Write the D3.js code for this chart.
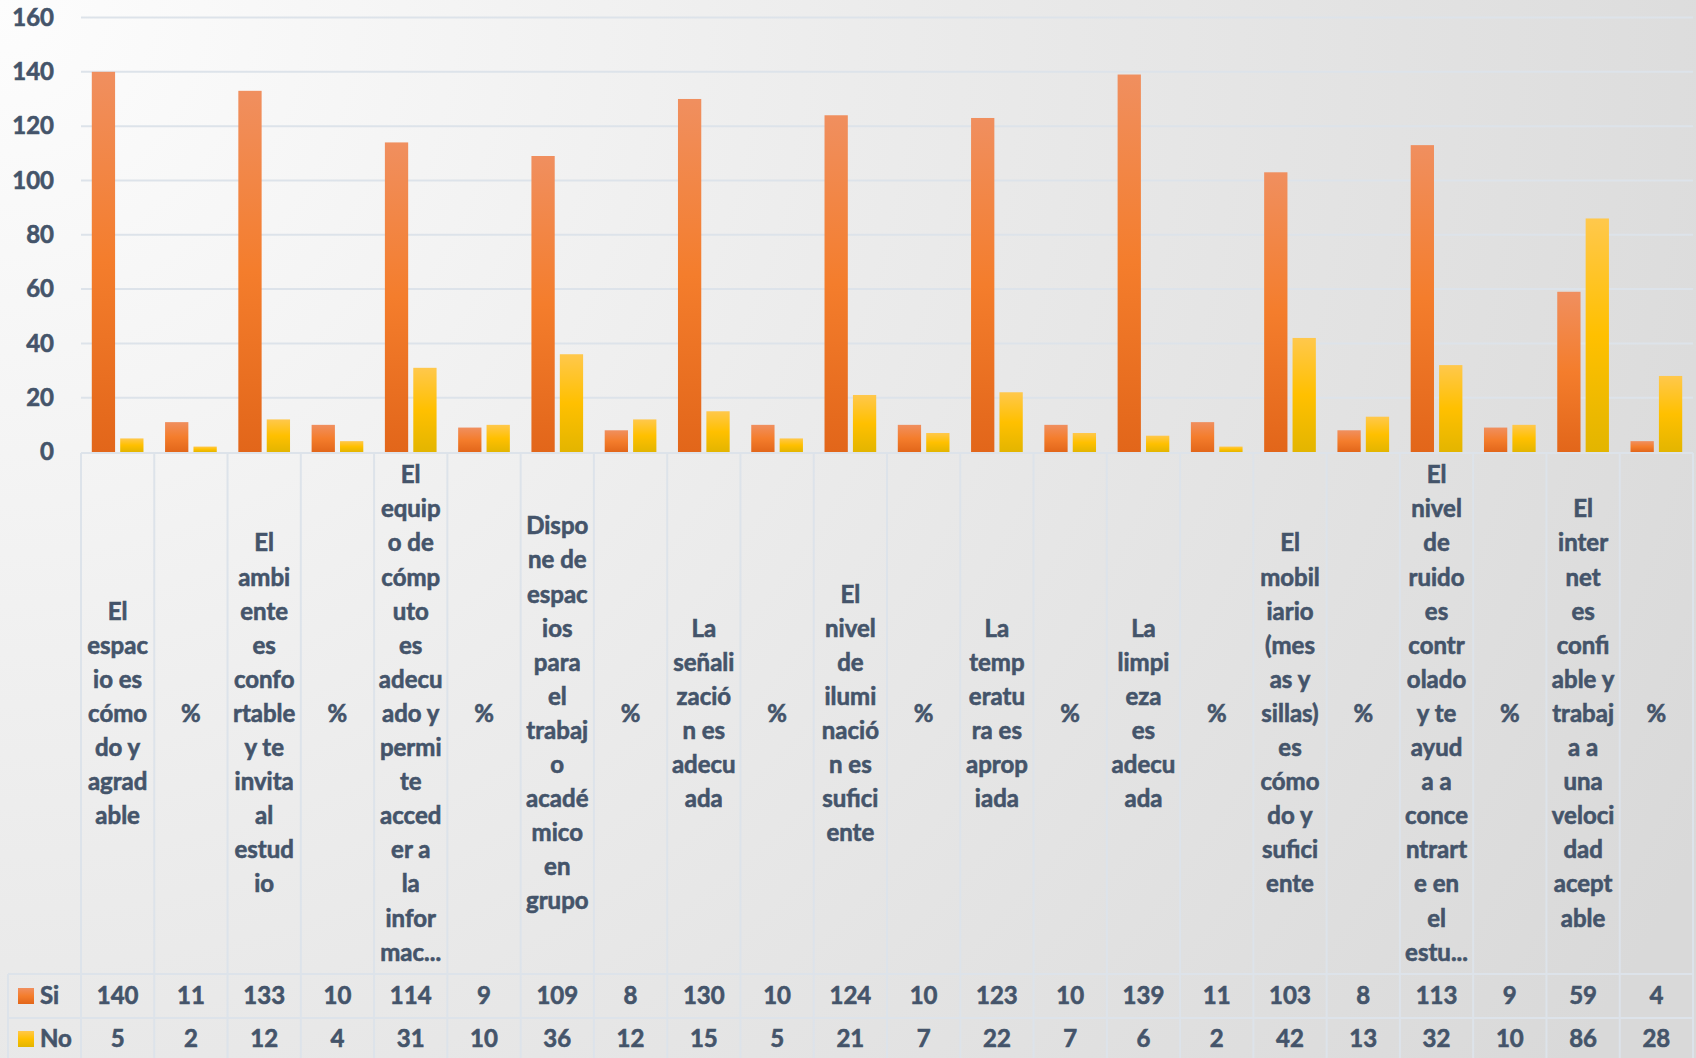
<!DOCTYPE html>
<html>
<head>
<meta charset="utf-8">
<script src="https://cdn.jsdelivr.net/npm/d3@7"></script>
<style>
  html, body { margin: 0; padding: 0; overflow: hidden; }
  svg { display: block; font-family: Lato, "Open Sans", sans-serif; font-weight: 700; }
  svg text { stroke: #44546a; stroke-width: 0.6px; }
</style>
</head>
<body>
<svg id="chart" width="1696" height="1058"></svg>
<script>
// category labels, wrapped the same way as the spreadsheet did it
const labels = [
  ["El", "espac", "io es", "cómo", "do y", "agrad", "able"],
  ["%"],
  ["El", "ambi", "ente", "es", "confo", "rtable", "y te", "invita", "al", "estud", "io"],
  ["%"],
  ["El", "equip", "o de", "cómp", "uto", "es", "adecu", "ado y", "permi", "te", "acced", "er a", "la", "infor", "mac..."],
  ["%"],
  ["Dispo", "ne de", "espac", "ios", "para", "el", "trabaj", "o", "acadé", "mico", "en", "grupo"],
  ["%"],
  ["La", "señali", "zació", "n es", "adecu", "ada"],
  ["%"],
  ["El", "nivel", "de", "ilumi", "nació", "n es", "sufici", "ente"],
  ["%"],
  ["La", "temp", "eratu", "ra es", "aprop", "iada"],
  ["%"],
  ["La", "limpi", "eza", "es", "adecu", "ada"],
  ["%"],
  ["El", "mobil", "iario", "(mes", "as y", "sillas)", "es", "cómo", "do y", "sufici", "ente"],
  ["%"],
  ["El", "nivel", "de", "ruido", "es", "contr", "olado", "y te", "ayud", "a a", "conce", "ntrart", "e en", "el", "estu..."],
  ["%"],
  ["El", "inter", "net", "es", "confi", "able y", "trabaj", "a a", "una", "veloci", "dad", "acept", "able"],
  ["%"]
];

const siValues = [140, 11, 133, 10, 114, 9, 109, 8, 130, 10, 124, 10, 123, 10, 139, 11, 103, 8, 113, 9, 59, 4];
const noValues = [5, 2, 12, 4, 31, 10, 36, 12, 15, 5, 21, 7, 22, 7, 6, 2, 42, 13, 32, 10, 86, 28];

const seriesNames = ["Si", "No"];
const yTicks = [0, 20, 40, 60, 80, 100, 120, 140, 160];

const W = 1696, H = 1058;
const plotLeft = 81, plotRight = 1693;
const plotTop = 17.5, plotBottom = 452;
const tableTop = 453, siRowTop = 974, noRowTop = 1018, tableBottom = 1058;
const textColor = "#44546a";
const borderColor = "#dde3ea";

const svg = d3.select("#chart");
const defs = svg.append("defs");

// background: light at top-left, greyer to the right / bottom
const bg = defs.append("radialGradient")
  .attr("id", "bg")
  .attr("gradientUnits", "userSpaceOnUse")
  .attr("cx", 0).attr("cy", 0).attr("r", 1900);
bg.append("stop").attr("offset", "0%").attr("stop-color", "#fdfdfd");
bg.append("stop").attr("offset", "45%").attr("stop-color", "#ececec");
bg.append("stop").attr("offset", "100%").attr("stop-color", "#d9d9d9");

function barGradient(id, top, mid, bottom) {
  const g = defs.append("linearGradient")
    .attr("id", id)
    .attr("x1", 0).attr("y1", 0).attr("x2", 0).attr("y2", 1);
  g.append("stop").attr("offset", "0%").attr("stop-color", top);
  g.append("stop").attr("offset", "50%").attr("stop-color", mid);
  g.append("stop").attr("offset", "100%").attr("stop-color", bottom);
}
barGradient("gradSi", "#f08f5f", "#f47d2c", "#e2661a");
barGradient("gradNo", "#ffc84c", "#ffc000", "#e3b500");

const fills = { Si: "url(#gradSi)", No: "url(#gradNo)" };

svg.append("rect").attr("width", W).attr("height", H).attr("fill", "url(#bg)");

const idx = d3.range(labels.length);
const data = idx.map(i => ({ i, Si: siValues[i], No: noValues[i] }));

const x0 = d3.scaleBand().domain(idx).range([plotLeft, plotRight]).padding(0);
const x1 = d3.scaleBand().domain(seriesNames).range([0, x0.bandwidth()])
  .paddingInner(0.18).paddingOuter(0.38);
const y = d3.scaleLinear().domain([0, 160]).range([plotBottom, plotTop]);

// gridlines
svg.append("g")
  .selectAll("line")
  .data(yTicks.slice(1))
  .join("line")
  .attr("x1", plotLeft).attr("x2", plotRight)
  .attr("y1", d => y(d)).attr("y2", d => y(d))
  .attr("stroke", borderColor)
  .attr("stroke-width", 2);

// y axis labels
const yAxis = svg.append("g")
  .attr("transform", `translate(${plotLeft - 27},0)`)
  .call(d3.axisLeft(y).tickValues(yTicks).tickSize(0).tickPadding(0));
yAxis.select(".domain").remove();
yAxis.selectAll("text")
  .attr("fill", textColor)
  .attr("font-size", 24)
  .attr("font-family", "Lato, sans-serif")
  .attr("font-weight", 700);

// bars
const groups = svg.append("g")
  .selectAll("g")
  .data(data)
  .join("g")
  .attr("transform", d => `translate(${x0(d.i)},0)`);

groups.selectAll("rect")
  .data(d => seriesNames.map(k => ({ key: k, value: d[k] })))
  .join("rect")
  .attr("x", d => x1(d.key))
  .attr("width", x1.bandwidth())
  .attr("y", d => y(d.value))
  .attr("height", d => y(0) - y(d.value))
  .attr("fill", d => fills[d.key]);

// data table
const table = svg.append("g");

// horizontal lines
table.append("line")
  .attr("x1", plotLeft).attr("x2", plotRight)
  .attr("y1", tableTop).attr("y2", tableTop);
[siRowTop, noRowTop].forEach(yy => {
  table.append("line")
    .attr("x1", 8).attr("x2", plotRight)
    .attr("y1", yy).attr("y2", yy);
});
// vertical lines
idx.concat([labels.length]).forEach(i => {
  const xx = i < labels.length ? x0(i) : plotRight;
  table.append("line")
    .attr("x1", xx).attr("x2", xx)
    .attr("y1", tableTop).attr("y2", tableBottom);
});
table.append("line")
  .attr("x1", 8).attr("x2", 8)
  .attr("y1", siRowTop).attr("y2", tableBottom);
table.selectAll("line")
  .attr("stroke", borderColor)
  .attr("stroke-width", 2);

// category labels
const lineH = 34.1;
const labelMid = (tableTop + siRowTop) / 2;
const labelG = table.append("g")
  .selectAll("text")
  .data(labels)
  .join("text")
  .attr("text-anchor", "middle")
  .attr("fill", textColor)
  .attr("font-size", 24);
labelG.each(function (lines, i) {
  const cx = x0(i) + x0.bandwidth() / 2;
  const startY = labelMid - (lines.length - 1) * lineH / 2;
  d3.select(this).selectAll("tspan")
    .data(lines)
    .join("tspan")
    .attr("x", cx)
    .attr("y", (d, j) => startY + j * lineH)
    .attr("dy", "0.35em")
    .text(d => d);
});

// value rows + legend keys
const rows = [
  { key: "Si", values: siValues, mid: (siRowTop + noRowTop) / 2 },
  { key: "No", values: noValues, mid: (noRowTop + tableBottom) / 2 + 1 }
];
rows.forEach(r => {
  table.append("rect")
    .attr("x", 18).attr("y", r.mid - 8)
    .attr("width", 16).attr("height", 16)
    .attr("fill", fills[r.key]);
  table.append("text")
    .attr("x", 40).attr("y", r.mid)
    .attr("dy", "0.35em")
    .attr("fill", textColor)
    .attr("font-size", 24)
    .text(r.key);
  table.append("g")
    .selectAll("text")
    .data(r.values)
    .join("text")
    .attr("x", (d, i) => x0(i) + x0.bandwidth() / 2)
    .attr("y", r.mid)
    .attr("dy", "0.35em")
    .attr("text-anchor", "middle")
    .attr("fill", textColor)
    .attr("font-size", 24)
    .text(d => d);
});
</script>
</body>
</html>
